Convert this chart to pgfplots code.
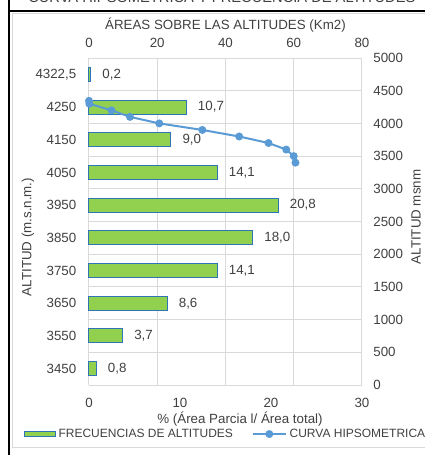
\documentclass[border=0pt]{standalone}
\usepackage{pgfplots}
\pgfplotsset{compat=1.18}
\usepackage{fontspec}
\setmainfont{Liberation Sans}
\definecolor{bargreen}{HTML}{92D050}
\definecolor{barblue}{HTML}{2E75B6}
\definecolor{curveblue}{HTML}{5B9BD5}
\definecolor{gridgray}{HTML}{D9D9D9}
\definecolor{txt}{HTML}{404040}
\pgfplotsset{
  every axis/.append style={
    scale only axis, width=204.75pt, height=245.25pt,
    at={(66.75pt,-288.75pt)}, anchor=south west,
    tick label style={font=\fontsize{10}{12}\selectfont, text=txt},
    axis line style={draw=none}, major tick length=0pt,
    /pgf/number format/assume math mode=true,
    /pgf/number format/set thousands separator={},
  },
  longline legend/.style={legend image code/.code={\draw[mark repeat=2,mark phase=2,##1] plot coordinates {(0pt,0pt) (12.5pt,0pt) (25pt,0pt)};}},
  barlegend/.style={legend image code/.code={\draw[draw=barblue, fill=bargreen, line width=0.75pt] (0pt,-2pt) rectangle (23pt,2pt);}},
}
\begin{document}
\begin{tikzpicture}
\useasboundingbox (0,0) rectangle (318.75pt,-341.25pt);
\begin{scope}
\clip (0,0) rectangle (318.75pt,-341.25pt);
\node[anchor=base west, font=\fontsize{11}{13}\selectfont, text=txt, inner sep=0] at (21pt,-2pt) {CURVA HIPSOMETRICA Y FRECUENCIA DE ALTITUDES};
\end{scope}
% frames
\draw[gridgray, line width=0.75pt] (318.75pt,-335.25pt) -- (9.75pt,-335.25pt) -- (9.75pt,-10.1pt) -- (318.75pt,-10.1pt);
\draw[black, line width=0.9pt] (7pt,-8.25pt) -- (318.75pt,-8.25pt);
\draw[black, line width=1.5pt] (7pt,0pt) -- (7pt,-341.25pt);

% grid axis with top/right labels
\begin{axis}[
  xmin=0, xmax=80, ymin=0, ymax=5000,
  xtick={0,20,40,60,80}, ytick={0,500,...,5000},
  grid=major, grid style={gridgray, line width=0.75pt},
  xticklabel pos=top, yticklabel pos=right,
  xticklabel style={yshift=4pt}, yticklabel style={xshift=5pt},
]
\end{axis}

% bars
\begin{axis}[
  xmin=0, xmax=30, ymin=-0.5, ymax=9.5,
  xtick={0,10,20,30}, ytick={0,1,2,3,4,5,6,7,8,9},
  yticklabels={3450,3550,3650,3750,3850,3950,4050,4150,4250,{4322,5}},
  xbar, bar width=10.5pt, clip=false,
  nodes near coords, point meta=explicit symbolic,
  nodes near coords style={anchor=west, xshift=5pt, font=\fontsize{10}{12}\selectfont, text=txt},
  xticklabel style={yshift=-6pt}, yticklabel style={xshift=-6pt},
]
\addplot[draw=barblue, fill=bargreen, line width=0.75pt] table[x=v, y=i, meta=lab] {
i v lab
0 0.8 0,8
1 3.7 3,7
2 8.6 8,6
3 14.1 14,1
4 18.0 18,0
5 20.8 20,8
6 14.1 14,1
7 9.0 9,0
8 10.7 10,7
9 0.2 0,2
};
\end{axis}

% curve + legend
\begin{axis}[
  xmin=0, xmax=80, ymin=0, ymax=5000,
  xtick=\empty, ytick=\empty, clip=false,
  legend columns=2,
  legend style={at={(0.502,-0.15)}, anchor=center, draw=none, fill=none,
    font=\fontsize{9}{11}\selectfont, text=txt, inner sep=0pt,
    /tikz/every even column/.append style={column sep=12pt}},
  legend cell align=left,
]
\addlegendimage{barlegend}
\addlegendentry{FRECUENCIAS DE ALTITUDES}
\addplot[color=curveblue, line width=1.5pt, mark=*, mark size=2.2pt, longline legend]
coordinates {
(0,4345) (0.12,4300) (6.6,4200) (12.0,4100) (20.6,4000) (33.2,3900)
(44.0,3800) (52.6,3700) (57.8,3600) (60.0,3500) (60.5,3400)
};
\addlegendentry{CURVA HIPSOMETRICA}
\end{axis}

% axis titles
\node[font=\fontsize{10}{12}\selectfont, text=txt] at (169.1pt,-18.75pt) {ÁREAS SOBRE LAS ALTITUDES (Km2)};
\node[font=\fontsize{10}{12}\selectfont, text=txt] at (180pt,-314.25pt) {\% (Área Parcia l/ Área total)};
\node[font=\fontsize{10}{12}\selectfont, text=txt, rotate=90] at (21pt,-177.75pt) {ALTITUD (m.s.n.m.)};
\node[font=\fontsize{10}{12}\selectfont, text=txt, rotate=90] at (312pt,-162.75pt) {ALTITUD msnm};
\end{tikzpicture}
\end{document}
